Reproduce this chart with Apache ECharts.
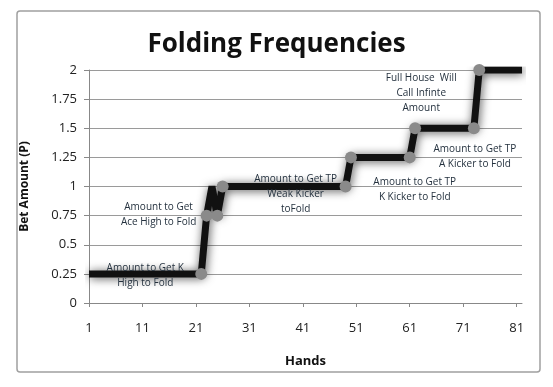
<!DOCTYPE html>
<html>
<head>
<meta charset="utf-8">
<script src="https://cdn.jsdelivr.net/npm/echarts@6/dist/echarts.min.js"></script>
<style>html,body{margin:0;padding:0;background:#fff}#c{width:553px;height:387px}</style>
</head>
<body>
<div id="c"></div>
<script>
// Hands 1..82
const hands = [];
for (let i = 1; i <= 82; i++) hands.push(String(i));

const betAmount = [
  0.25,0.25,0.25,0.25,0.25,0.25,0.25,0.25,0.25,0.25,
  0.25,0.25,0.25,0.25,0.25,0.25,0.25,0.25,0.25,0.25,
  0.25,0.25,0.75,1,0.75,1,1,1,1,1,
  1,1,1,1,1,1,1,1,1,1,
  1,1,1,1,1,1,1,1,1,1.25,
  1.25,1.25,1.25,1.25,1.25,1.25,1.25,1.25,1.25,1.25,
  1.25,1.5,1.5,1.5,1.5,1.5,1.5,1.5,1.5,1.5,
  1.5,1.5,1.5,2,2,2,2,2,2,2,
  2,2
];

// hands (1-based) that carry a marker
const markedHands = [22, 23, 25, 26, 49, 50, 61, 62, 73, 74];

// annotation texts attached to hands
const noteHands = [22, 23, 49, 61, 73, 74];
const noteTexts = [
  'Amount to Get K\nHigh to Fold',
  'Amount to Get\nAce High to Fold',
  'Amount to Get TP\nWeak Kicker\ntoFold',
  'Amount to Get TP\nK Kicker to Fold',
  'Amount to Get TP\nA Kicker to Fold',
  'Full House  Will\nCall Infinte\nAmount'
];
const noteOffsets = [[-56, 2], [-48, -1], [-50, 8], [5, 32], [1, 28], [-58, 23]];

const seriesData = betAmount.map((v, i) => {
  const h = i + 1;
  const item = { value: v };
  if (markedHands.indexOf(h) >= 0) {
    item.symbol = 'circle';
    item.symbolSize = 12;
  } else {
    item.symbol = 'none';
  }
  const n = noteHands.indexOf(h);
  if (n >= 0) {
    item.label = {
      show: true,
      formatter: noteTexts[n],
      position: 'inside',
      offset: noteOffsets[n],
      align: 'center',
      verticalAlign: 'middle'
    };
  }
  return item;
});

const chart = echarts.init(document.getElementById('c'));
chart.setOption({
  animation: false,
  textStyle: { fontFamily: 'Open Sans' },
  title: {
    text: 'Folding Frequencies',
    left: 'center',
    top: 27,
    textStyle: { fontSize: 26, fontWeight: 'bold', color: '#111', fontFamily: 'Open Sans' }
  },
  graphic: [{
    type: 'rect',
    shape: { x: 17, y: 11, width: 523, height: 361, r: 3 },
    style: { fill: 'none', stroke: '#a0a0a0', lineWidth: 1.5 },
    z: -1
  }],
  grid: { left: 89, right: 31, top: 70, bottom: 84 },
  xAxis: {
    type: 'category',
    data: hands,
    boundaryGap: false,
    name: 'Hands',
    nameLocation: 'middle',
    nameGap: 52,
    nameTextStyle: { fontSize: 13, fontWeight: 'bold', color: '#111' },
    axisLine: { lineStyle: { color: '#888', width: 1 } },
    axisTick: { show: true, interval: 9, length: 4, lineStyle: { color: '#888' } },
    axisLabel: { interval: 9, fontSize: 13, color: '#222', margin: 19 },
    splitLine: { show: false }
  },
  yAxis: {
    type: 'value',
    min: 0,
    max: 2,
    interval: 0.25,
    name: 'Bet Amount (P)',
    nameLocation: 'middle',
    nameGap: 58,
    nameTextStyle: { fontSize: 12, fontWeight: 'bold', color: '#111' },
    axisLine: { show: true, lineStyle: { color: '#888', width: 1 } },
    axisTick: { show: true, length: 5, lineStyle: { color: '#888' } },
    axisLabel: { fontSize: 13, color: '#222', margin: 12 },
    splitLine: { show: true, lineStyle: { color: '#9a9a9a', width: 1 } }
  },
  series: [{
    type: 'line',
    data: seriesData,
    showSymbol: true,
    showAllSymbol: true,
    itemStyle: { color: '#8a8a8a' },
    lineStyle: {
      color: '#111',
      width: 7,
      shadowColor: 'rgba(0,0,0,0.7)',
      shadowBlur: 10,
      shadowOffsetX: 1,
      shadowOffsetY: 1
    },
    label: {
      fontSize: 10,
      lineHeight: 15,
      color: '#25323f',
      fontFamily: 'Open Sans'
    },
    z: 3
  }]
});
</script>
</body>
</html>
